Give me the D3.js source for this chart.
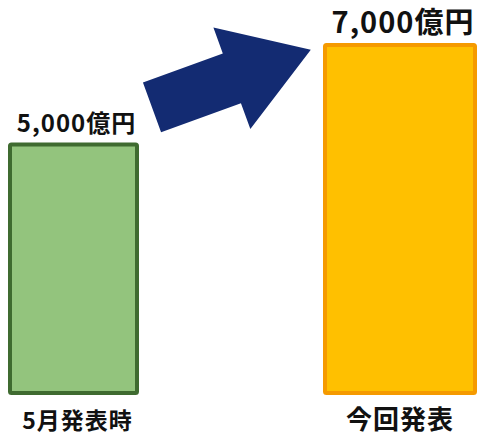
<!DOCTYPE html>
<html lang="ja">
<head>
<meta charset="UTF-8">
<title>5月発表時 → 今回発表</title>
<style>
  body { margin: 0; background: #fff; }
  svg text { font-family: "Noto Sans CJK JP", "Noto Sans", sans-serif; font-weight: 700; fill: #111; }
</style>
</head>
<body>
<svg width="479" height="436"></svg>
<script src="https://cdn.jsdelivr.net/npm/d3@7"></script>
<script>
const categories = ["5月発表時", "今回発表"];
const values = [5000, 7000];
const valueLabels = ["5,000億円", "7,000億円"];

const fills = ["#93c47d", "#ffc000"];
const strokes = ["#3f6b30", "#f59a00"];
const valueFont = [24, 29];
const catFont = [23, 26];

const svg = d3.select("svg");

// bars have different widths in the original, so x is ordinal left edge + width
const x = d3.scaleOrdinal().domain(categories).range([10, 325]);
const w = d3.scaleOrdinal().domain(categories).range([127, 150]);
const y = d3.scaleLinear().domain([0, 7000]).range([393, 45]);

const data = categories.map((c, i) => ({ cat: c, value: values[i], label: valueLabels[i], i }));

svg.selectAll("rect.bar")
  .data(data)
  .join("rect")
  .attr("class", "bar")
  .attr("x", d => x(d.cat))
  .attr("y", d => y(d.value))
  .attr("width", d => w(d.cat))
  .attr("height", d => y(0) - y(d.value))
  .attr("rx", 1.5)
  .attr("fill", d => fills[d.i])
  .attr("stroke", d => strokes[d.i])
  .attr("stroke-width", 4);

svg.selectAll("text.val")
  .data(data)
  .join("text")
  .attr("class", "val")
  .attr("x", d => x(d.cat) + w(d.cat) / 2 + 3)
  .attr("y", d => y(d.value) - 12)
  .attr("text-anchor", "middle")
  .style("font-size", d => valueFont[d.i] + "px")
  .style("letter-spacing", "1px")
  .text(d => d.label);

svg.selectAll("text.cat")
  .data(data)
  .join("text")
  .attr("class", "cat")
  .attr("x", d => x(d.cat) + w(d.cat) / 2 + (d.i ? 0 : 4))
  .attr("y", 429)
  .attr("text-anchor", "middle")
  .style("font-size", d => catFont[d.i] + "px")
  .style("letter-spacing", "1px")
  .text(d => d.cat);

// big arrow from the first bar toward the second
const L = 169, headLen = 84, shaft = 53, head = 108;
const arrow = [
  [0, -shaft / 2], [L - headLen, -shaft / 2], [L - headLen, -head / 2],
  [L, 0], [L - headLen, head / 2], [L - headLen, shaft / 2], [0, shaft / 2]
];
const ax = x(categories[0]) + w(categories[0]) + 15;
const ay = y(values[0]) - 37;
svg.append("path")
  .attr("d", d3.line()(arrow) + "Z")
  .attr("transform", `translate(${ax},${ay}) rotate(-20)`)
  .attr("fill", "#132b72");
</script>
</body>
</html>
